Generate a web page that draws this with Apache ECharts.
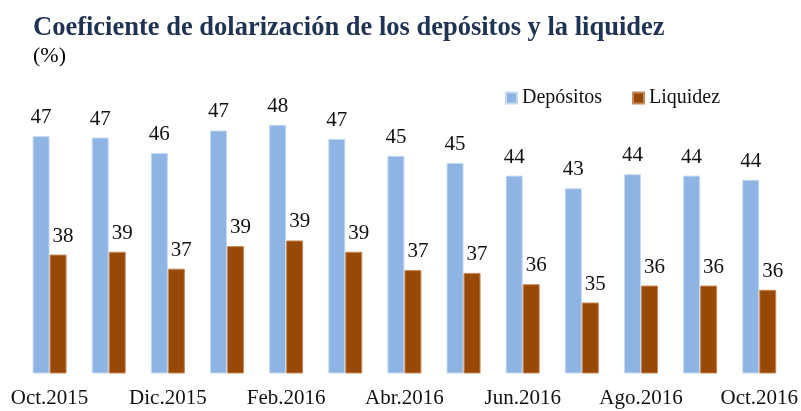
<!DOCTYPE html>
<html>
<head>
<meta charset="utf-8">
<script src="https://cdn.jsdelivr.net/npm/echarts@6/dist/echarts.min.js"></script>
<style>
  html, body { margin: 0; padding: 0; background: #fff; }
  #chart { width: 801px; height: 411px; }
</style>
</head>
<body>
<div id="chart"></div>
<script>
// meses del período
var months = ['Oct.2015', 'Nov.2015', 'Dic.2015', 'Ene.2016', 'Feb.2016', 'Mar.2016', 'Abr.2016',
              'May.2016', 'Jun.2016', 'Jul.2016', 'Ago.2016', 'Sep.2016', 'Oct.2016'];
// coeficiente de dolarización (%)
var depositos = [46.8, 46.7, 45.6, 47.2, 47.6, 46.6, 45.4, 44.9, 44.0, 43.1, 44.1, 44.0, 43.7];
var liquidez  = [38.4, 38.6, 37.4, 39.0, 39.4, 38.6, 37.3, 37.1, 36.3, 35.0, 36.2, 36.2, 35.9];

var serif = "'Liberation Serif', 'DejaVu Serif', serif";

var chart = echarts.init(document.getElementById('chart'));

function roundLabel(p) {
	return Math.round(p.value);
}

var option = {
	animation: false,
	textStyle: { fontFamily: serif },
	title: {
		text: 'Coeficiente de dolarización de los depósitos y la liquidez',
		subtext: '(%)',
		left: 28,
		top: 10,
		itemGap: 3,
		textStyle: { fontFamily: serif, fontSize: 26.5, fontWeight: 'bold', color: '#1f3352' },
		subtextStyle: { fontFamily: serif, fontSize: 22, color: '#000' }
	},
	legend: {
		data: ['Depósitos', 'Liquidez'],
		left: 500,
		top: 83,
		itemWidth: 11,
		itemHeight: 11,
		itemGap: 30,
		icon: 'rect',
		textStyle: { fontFamily: serif, fontSize: 20, color: '#111' }
	},
	grid: { left: 20, right: 11, top: 91, bottom: 38 },
	xAxis: {
		type: 'category',
		data: months,
		axisLine: { show: false },
		axisTick: { show: false },
		axisLabel: { interval: 1, fontSize: 21, color: '#111', margin: 15, fontFamily: serif }
	},
	yAxis: {
		type: 'value',
		min: 30,
		max: 50,
		show: false,
		splitLine: { show: false }
	},
	series: [
		{
			name: 'Depósitos',
			type: 'bar',
			data: depositos,
			barWidth: 17,
			barGap: '0%',
			itemStyle: { color: '#8eb4e3', borderColor: '#c5d9f1', borderWidth: 1 },
			label: { show: true, position: 'top', distance: 8, formatter: roundLabel,
				fontSize: 21, color: '#111', fontFamily: serif }
		},
		{
			name: 'Liquidez',
			type: 'bar',
			data: liquidez,
			barWidth: 17,
			itemStyle: { color: '#984807', borderColor: '#c58a5a', borderWidth: 1 },
			label: { show: true, position: 'top', distance: 8, offset: [5, 0], formatter: roundLabel,
				fontSize: 21, color: '#111', fontFamily: serif }
		}
	]
};

chart.setOption(option);

window.addEventListener('resize', function () {
	chart.resize();
});
</script>
</body>
</html>
